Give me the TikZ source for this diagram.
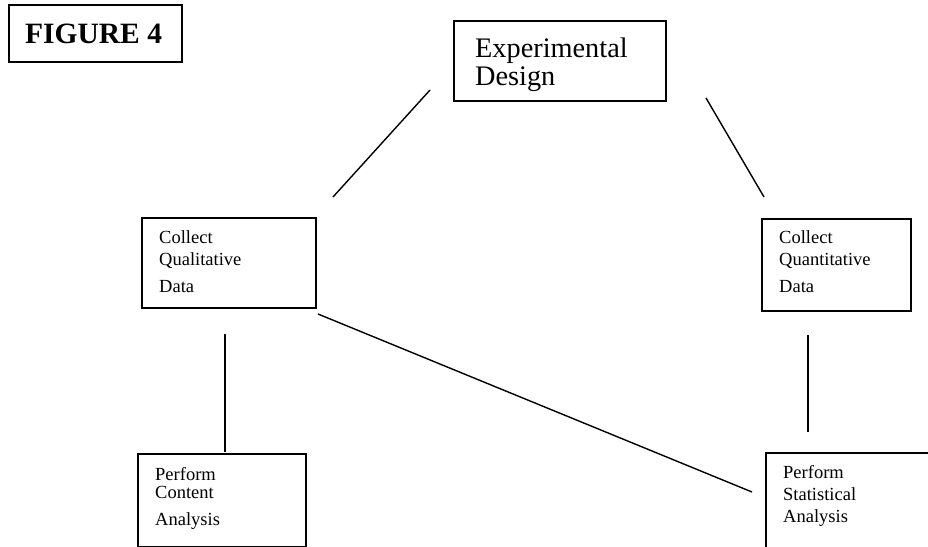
\documentclass[tikz,border=0pt]{standalone}
\usepackage{fontspec}
\setmainfont{Liberation Serif}
\begin{document}
\begin{tikzpicture}[x=1pt,y=-1pt,
  box/.style={draw,line width=2pt,rectangle,inner sep=0pt,anchor=north west},
  link/.style={line width=1.4pt},
  lbl/.style={anchor=base west,inner sep=0pt},
  small/.style={font=\fontsize{18.5}{20}\selectfont},
]
\useasboundingbox (0,0) rectangle (928,546);
\clip (0,0) rectangle (928,546);

% title
\node[box,minimum width=173pt,minimum height=57pt] (fig) at (8,4) {};
\node[lbl,font=\bfseries\fontsize{29.5}{32}\selectfont] (figtxt) at (25,43) {FIGURE 4};

% boxes
\node[box,minimum width=212pt,minimum height=80pt] (design) at (453,20) {};
\node[box,minimum width=174pt,minimum height=90pt] (qual) at (141,217) {};
\node[box,minimum width=149pt,minimum height=92pt] (quant) at (761,218) {};
\node[box,minimum width=168pt,minimum height=93pt] (content) at (137,453) {};
\node[box,minimum width=175pt,minimum height=110pt] (stat) at (765,452) {};

% labels
\node[lbl,font=\fontsize{28.3}{30}\selectfont] (d1) at (475,57) {Experimental};
\node[lbl,font=\fontsize{28.3}{30}\selectfont] (d2) at (475,85) {Design};

\node[lbl,small] (q1) at (159,243) {Collect};
\node[lbl,small] (q2) at (159,265) {Qualitative};
\node[lbl,small] (q3) at (159,292) {Data};

\node[lbl,small] (n1) at (779,243) {Collect};
\node[lbl,small] (n2) at (779,265) {Quantitative};
\node[lbl,small] (n3) at (779,292) {Data};

\node[lbl,small] (c1) at (155,480) {Perform};
\node[lbl,small] (c2) at (155,498) {Content};
\node[lbl,small] (c3) at (155,525) {Analysis};

\node[lbl,small] (s1) at (783,478) {Perform};
\node[lbl,small] (s2) at (783,500) {Statistical};
\node[lbl,small] (s3) at (783,522) {Analysis};

% connector ends
\coordinate (a1) at (430,90);  \coordinate (a2) at (333,197);
\coordinate (b1) at (706,98);  \coordinate (b2) at (764,197);
\coordinate (c1e) at (225,334); \coordinate (c2e) at (225,452);
\coordinate (d1e) at (808,335); \coordinate (d2e) at (808,432);
\coordinate (e1) at (318,314); \coordinate (e2) at (752,492);

\draw[link] (a1) -- (a2);
\draw[link] (b1) -- (b2);
\draw[link] (c1e) -- (c2e);
\draw[link] (d1e) -- (d2e);
\draw[link] (e1) -- (e2);
\end{tikzpicture}
\end{document}
